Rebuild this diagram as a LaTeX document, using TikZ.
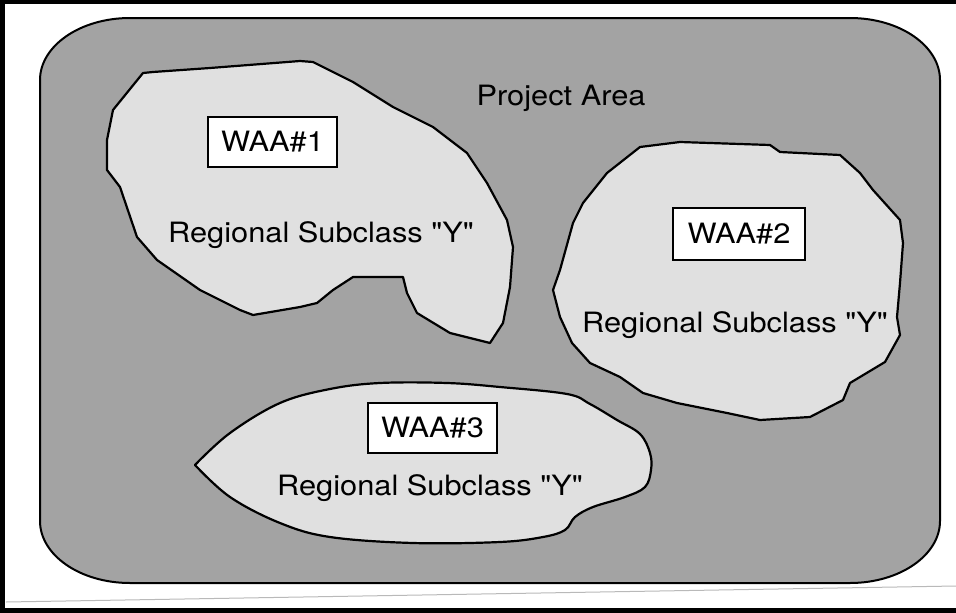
\documentclass[tikz,border=0pt]{standalone}
\usepackage{fontspec}
\setmainfont{TeX Gyre Heros}[Ligatures=TeXOff]
\definecolor{areafill}{gray}{0.64}
\definecolor{blobfill}{gray}{0.88}
\begin{document}
\begin{tikzpicture}[x=1pt,y=-1pt,
  blob/.style={draw=black, line width=2.2pt, fill=blobfill, line join=round},
  regtext/.style={font=\fontsize{28}{32}\selectfont, anchor=base, inner sep=0pt},
  waabox/.style={draw=black, line width=2pt, fill=white, minimum width=129pt, minimum height=50pt, inner sep=0pt, font=\fontsize{28}{32}\selectfont}]
\useasboundingbox (0,0) rectangle (956,613);
\fill[white] (0,0) rectangle (956,613);
% frame
\fill[black] (0,0) rectangle (5,613);
\fill[black] (0,0) rectangle (956,4);
\fill[black] (0,608) rectangle (956,613);
\draw[gray!55, line width=1pt] (6,602) -- (956,586);
% project area
\draw[line width=2pt, fill=areafill] (130,18) -- (850,18) .. controls (900,18) and (940,46) .. (940,80) -- (940,521) .. controls (940,555) and (900,583) .. (850,583) -- (130,583) .. controls (80,583) and (40,555) .. (40,521) -- (40,80) .. controls (40,46) and (80,18) .. (130,18) -- cycle;
% blob 1
\draw[blob] (143,73) -- (153,72) -- (210,68) -- (300,61) -- (313,62) -- (353,82) -- (393,107) -- (433,127) -- (467,153) -- (487,183) -- (507,220) -- (513,247) -- (510,287) -- (503,323) -- (490,343) -- (450,333) -- (417,313) -- (407,293) -- (403,277) -- (353,277) -- (333,290) -- (317,303) -- (300,307) -- (253,315) -- (240,310) -- (200,290) -- (157,260) -- (137,237) -- (120,187) -- (107,170) -- (107,140) -- (113,110) -- cycle;
% blob 2
\draw[blob] (640,147) -- (680,142) -- (770,145) -- (780,152) -- (840,155) -- (860,173) -- (873,190) -- (900,220) -- (903,243) -- (900,283) -- (897,317) -- (900,335) -- (885,362) -- (850,383) -- (843,400) -- (810,417) -- (760,420) -- (727,413) -- (677,403) -- (643,393) -- (620,377) -- (590,363) -- (572,343) -- (560,317) -- (553,290) -- (560,270) -- (573,223) -- (583,203) -- (607,173) -- cycle;
% blob 3
\draw[blob] plot[smooth, tension=0.6] coordinates {(195,465) (230,433) (280,403) (330,389) (380,383) (447,383) (500,387) (567,394) (590,404) (617,420) (640,434) (650,453) (651,470) (645,487) (625,497) (593,507) (575,517) (565,530) (543,537) (500,542) (413,543) (330,537) (280,523) (230,497) (195,465)} -- cycle;
% texts
\node[regtext] (pa) at (561,105) {\scalebox{1.1}[1]{Project Area}};
\node[waabox] (w1) at (272.5,142) {\scalebox{1.1}[1]{WAA\#1}};
\node[regtext] (r1) at (321,242) {\scalebox{1.1}[1]{Regional Subclass "Y"}};
\node[waabox, minimum width=132pt, minimum height=52pt] (w2) at (739,234) {\scalebox{1.1}[1]{WAA\#2}};
\node[regtext] (r2) at (735,332) {\scalebox{1.1}[1]{Regional Subclass "Y"}};
\node[waabox] (w3) at (432.5,428) {\scalebox{1.1}[1]{WAA\#3}};
\node[regtext] (r3) at (430,495) {\scalebox{1.1}[1]{Regional Subclass "Y"}};
\end{tikzpicture}
\end{document}
